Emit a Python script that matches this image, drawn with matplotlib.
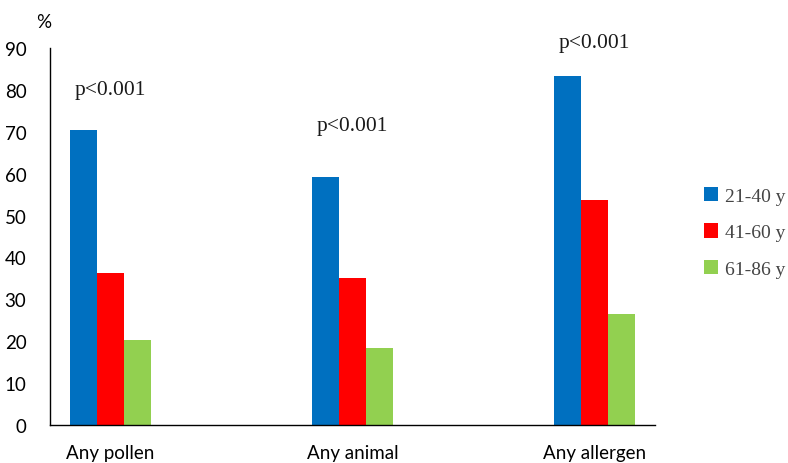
import numpy as np
import matplotlib.pyplot as plt
from matplotlib.patches import Patch

categories = ['Any pollen', 'Any animal', 'Any allergen']
groups = ['21-40 y', '41-60 y', '61-86 y']
age_21_40 = [70.4, 59.2, 83.3]
age_41_60 = [36.3, 35.1, 53.7]
age_61_86 = [20.3, 18.4, 26.5]
p_labels = ['p<0.001', 'p<0.001', 'p<0.001']
p_label_y = [80.2, 71.6, 91.4]

colors = ['#0070C0', '#FF0000', '#92D050']
series = [age_21_40, age_41_60, age_61_86]

fig = plt.figure(figsize=(7.88, 4.64), dpi=100)
ax = fig.add_axes([50 / 788, 1 - 426 / 464, 605 / 788, 377 / 464])

x = np.arange(len(categories))
w = 0.1116
for i, (vals, c) in enumerate(zip(series, colors)):
    ax.bar(x + (i - 1) * w, vals, width=w, color=c, edgecolor='none')

for xi, lab, yy in zip(x, p_labels, p_label_y):
    ax.text(xi, yy, lab, ha='center', va='center', fontsize=15.5,
            family='Liberation Serif', color='#1a1a1a')

ax.set_xlim(-0.25, 2.25)
ax.set_ylim(0, 90)
ax.set_yticks(np.arange(0, 91, 10))
ax.set_xticks(x)
ax.set_xticklabels(categories)
ax.tick_params(axis='both', length=0, labelsize=13.5)
ax.tick_params(axis='y', pad=17)
ax.tick_params(axis='x', pad=14)
for t in ax.get_xticklabels() + ax.get_yticklabels():
    t.set_family('Lato')
ax.spines['top'].set_visible(False)
ax.spines['right'].set_visible(False)
ax.spines['left'].set_linewidth(1.0)
ax.spines['bottom'].set_linewidth(1.0)

ax.text(-0.01, 1.07, '%', transform=ax.transAxes, ha='center', va='center',
        fontsize=13.5, family='Lato')

handles = [Patch(facecolor=c, edgecolor='none') for c in colors]
fig.legend(handles, groups, loc='center left', bbox_to_anchor=(0.893, 0.497),
           frameon=False, borderpad=0, borderaxespad=0,
           handlelength=0.75, handleheight=0.75, handletextpad=0.35,
           labelspacing=0.95, prop={'family': 'Liberation Serif', 'size': 14},
           labelcolor='#444444')

fig.savefig('out.png', dpi=100)
